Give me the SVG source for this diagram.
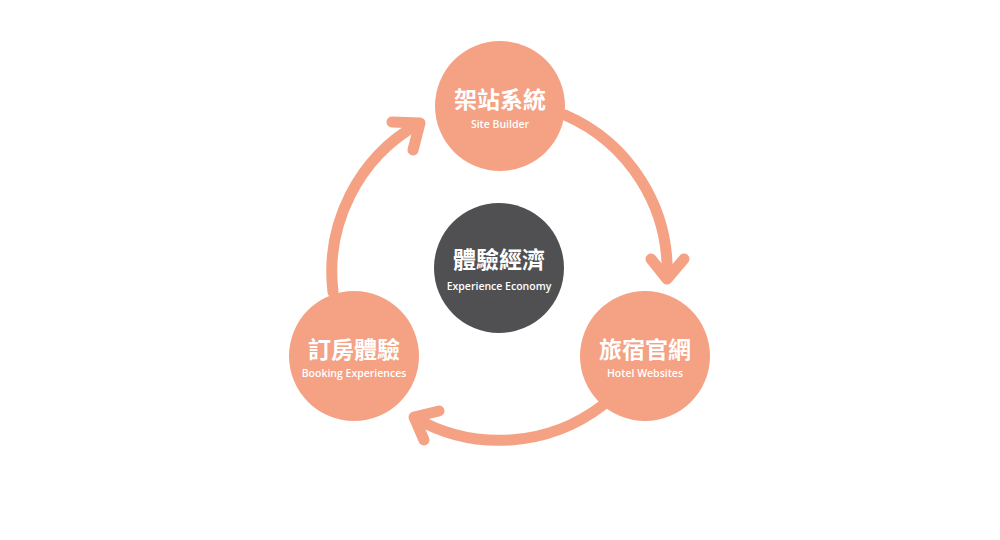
<svg xmlns="http://www.w3.org/2000/svg" width="1000" height="540" viewBox="0 0 1000 540">
<style>
.node{fill:#F4A184}
.dark{fill:#505052}
.t{font-family:"Noto Sans CJK TC","Noto Sans",sans-serif;font-size:23px;font-weight:700;fill:#fff;text-anchor:middle}
.s{font-family:"Open Sans","Noto Sans",sans-serif;font-size:10.5px;font-weight:600;fill:#fff;text-anchor:middle}
.c{fill:none;stroke:#F4A184;stroke-width:11;stroke-linecap:round;stroke-linejoin:round}
</style>
<rect width="1000" height="540" fill="#fff"/>
<g id="connectors">
<path class="c" d="M333,292 A170,170 0 0 1 418,124"/>
<polyline class="c" points="392,122 420,123 413,150"/>
<path class="c" d="M565,115 A170,170 0 0 1 667,278"/>
<polyline class="c" points="651,259 667,279 684,259"/>
<path class="c" d="M603,405 A170,170 0 0 1 415,418"/>
<polyline class="c" points="439,411 414,417 424,440"/>
</g>
<g id="site-builder">
<circle class="node" cx="500" cy="106" r="65"/>
<text class="t" x="500" y="108">架站系統</text>
<text class="s" x="500" y="128">Site Builder</text>
</g>
<g id="experience-economy">
<circle class="dark" cx="499" cy="268" r="65"/>
<text class="t" x="499" y="268">體驗經濟</text>
<text class="s" x="499" y="290">Experience Economy</text>
</g>
<g id="booking-experiences">
<circle class="node" cx="354" cy="356" r="65"/>
<text class="t" x="354" y="358">訂房體驗</text>
<text class="s" x="354" y="377">Booking Experiences</text>
</g>
<g id="hotel-websites">
<circle class="node" cx="645" cy="356" r="65"/>
<text class="t" x="645" y="358">旅宿官網</text>
<text class="s" x="645" y="377">Hotel Websites</text>
</g>
</svg>
